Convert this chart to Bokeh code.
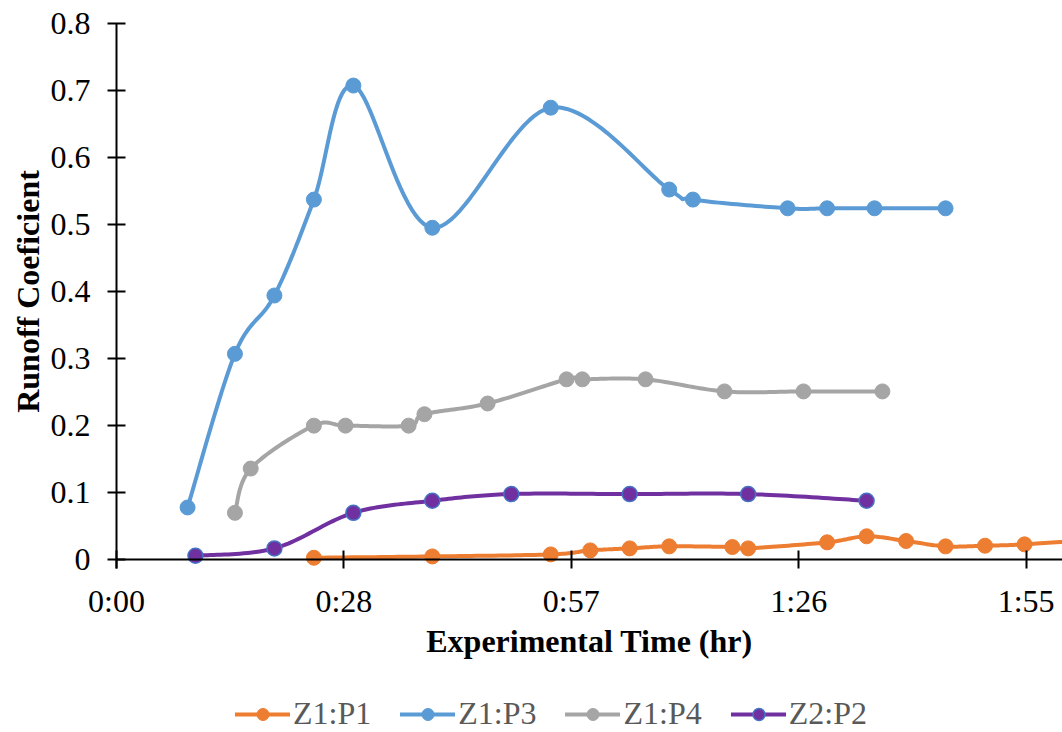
import math
import numpy as np
from bokeh.plotting import figure
from bokeh.models import (Range1d, FixedTicker, Legend, LegendItem,
                          NumeralTickFormatter, Label)
from bokeh.embed import file_html
from bokeh.resources import INLINE

# Experimental time in minutes, runoff coefficient per plot
x_ticks = [0, 28.8, 57.6, 86.4, 115.2]
x_tick_labels = ["0:00", "0:28", "0:57", "1:26", "1:55"]
y_ticks = [0, 0.1, 0.2, 0.3, 0.4, 0.5, 0.6, 0.7, 0.8]

z1p1_time = [25, 40, 55, 60, 65, 70, 78, 80, 90, 95, 100, 105, 110, 115, 125]
z1p1_coef = [0.003, 0.005, 0.008, 0.014, 0.017, 0.020, 0.019, 0.017, 0.026,
             0.035, 0.028, 0.020, 0.021, 0.023, 0.031]

z1p3_time = [9, 15, 20, 25, 30, 40, 55, 70, 73, 85, 90, 96, 105]
z1p3_coef = [0.078, 0.307, 0.394, 0.537, 0.707, 0.495, 0.674, 0.552, 0.537,
             0.524, 0.524, 0.524, 0.524]

z1p4_time = [15, 17, 25, 29, 37, 39, 47, 57, 59, 67, 77, 87, 97]
z1p4_coef = [0.070, 0.136, 0.200, 0.200, 0.200, 0.217, 0.233, 0.269, 0.269,
             0.269, 0.251, 0.251, 0.251]

z2p2_time = [10, 20, 30, 40, 50, 65, 80, 95]
z2p2_coef = [0.006, 0.017, 0.070, 0.088, 0.098, 0.098, 0.098, 0.088]

FONT = "Liberation Serif"

# The frame covers the whole canvas; both axes are pinned at zero and the
# margins around them hold the tick labels, titles and legend.
X_MIN, X_MAX = -14.69, 119.81
Y_MIN, Y_MAX = -0.2575, 0.8338
Y_TOP = 0.8


def smooth(xs, ys, n=24):
    """Cardinal (Catmull-Rom) bezier smoothing, like a spreadsheet's smoothed line."""
    pts = np.column_stack([xs, ys]).astype(float)
    m = len(pts)
    out = [pts[0]]
    t = np.linspace(0, 1, n)[1:, None]
    for i in range(m - 1):
        p0 = pts[i - 1] if i > 0 else pts[i]
        p1 = pts[i]
        p2 = pts[i + 1]
        p3 = pts[i + 2] if i + 2 < m else pts[i + 1]
        c1 = p1 + (p2 - p0) / 6.0
        c2 = p2 - (p3 - p1) / 6.0
        seg = ((1 - t) ** 3) * p1 + 3 * ((1 - t) ** 2) * t * c1 + 3 * (1 - t) * t ** 2 * c2 + t ** 3 * p2
        out.extend(seg)
    out = np.array(out)
    return out[:, 0], out[:, 1]


p = figure(
    width=1062, height=732,
    x_range=Range1d(X_MIN, X_MAX), y_range=Range1d(Y_MIN, Y_MAX),
    output_backend="svg", toolbar_location=None,
    min_border_left=0, min_border_right=0, min_border_top=0, min_border_bottom=0,
)
p.outline_line_color = None
p.xgrid.visible = False
p.ygrid.visible = False
p.background_fill_color = "white"
p.border_fill_color = "white"

series = [
    ("Z1:P1", z1p1_time, z1p1_coef, "#ED7D31", "#ED7D31"),
    ("Z1:P3", z1p3_time, z1p3_coef, "#5B9BD5", "#5B9BD5"),
    ("Z1:P4", z1p4_time, z1p4_coef, "#A5A5A5", "#A5A5A5"),
    ("Z2:P2", z2p2_time, z2p2_coef, "#7030A0", "#4472C4"),
]

items = []
for name, tx, cy, color, edge in series:
    sx, sy = smooth(tx, cy)
    lr = p.line(sx, sy, line_color=color, line_width=4, line_join="round", line_cap="round")
    mr = p.scatter(tx, cy, size=15, fill_color=color, line_color=edge,
                   line_width=1.5 if edge != color else 1)
    items.append(LegendItem(label=name, renderers=[lr, mr]))

xa = p.xaxis[0]
xa.fixed_location = 0
xa.bounds = (0, X_MAX)
xa.ticker = FixedTicker(ticks=x_ticks)
xa.major_label_overrides = {t: l for t, l in zip(x_ticks, x_tick_labels)}

ya = p.yaxis[0]
ya.fixed_location = 0
ya.bounds = (-0.0135, Y_TOP)
ya.ticker = FixedTicker(ticks=y_ticks)
ya.formatter = NumeralTickFormatter(format="0.[0]")

for ax in (xa, ya):
    ax.axis_line_color = "black"
    ax.axis_line_width = 2
    ax.major_tick_line_color = "black"
    ax.major_tick_line_width = 2
    ax.major_tick_in = 9
    ax.major_tick_out = 9
    ax.minor_tick_line_color = None
    ax.major_label_text_font = FONT
    ax.major_label_text_font_size = "32px"
    ax.major_label_text_color = "black"

xa.major_label_standoff = 14
ya.major_label_standoff = 17

# Axis titles
p.add_layout(Label(x=X_MAX / 2, y=-0.1218, text="Experimental Time (hr)",
                   text_font=FONT, text_font_size="32px", text_font_style="bold",
                   text_color="black", text_align="center", text_baseline="middle"))
p.add_layout(Label(x=-11.27, y=Y_TOP / 2, text="Runoff Coeficient", angle=math.pi / 2,
                   text_font=FONT, text_font_size="32px", text_font_style="bold",
                   text_color="black", text_align="center", text_baseline="middle"))

legend = Legend(
    items=items, orientation="horizontal", location=(235, 0),
    glyph_width=55, glyph_height=30, label_height=30, label_standoff=3,
    spacing=29, padding=0, margin=0,
    label_text_font=FONT, label_text_font_size="32px", label_text_color="#595959",
    border_line_color=None, background_fill_alpha=0,
)
p.add_layout(legend, "center")

open("out.html", "w").write(file_html(p, INLINE))
